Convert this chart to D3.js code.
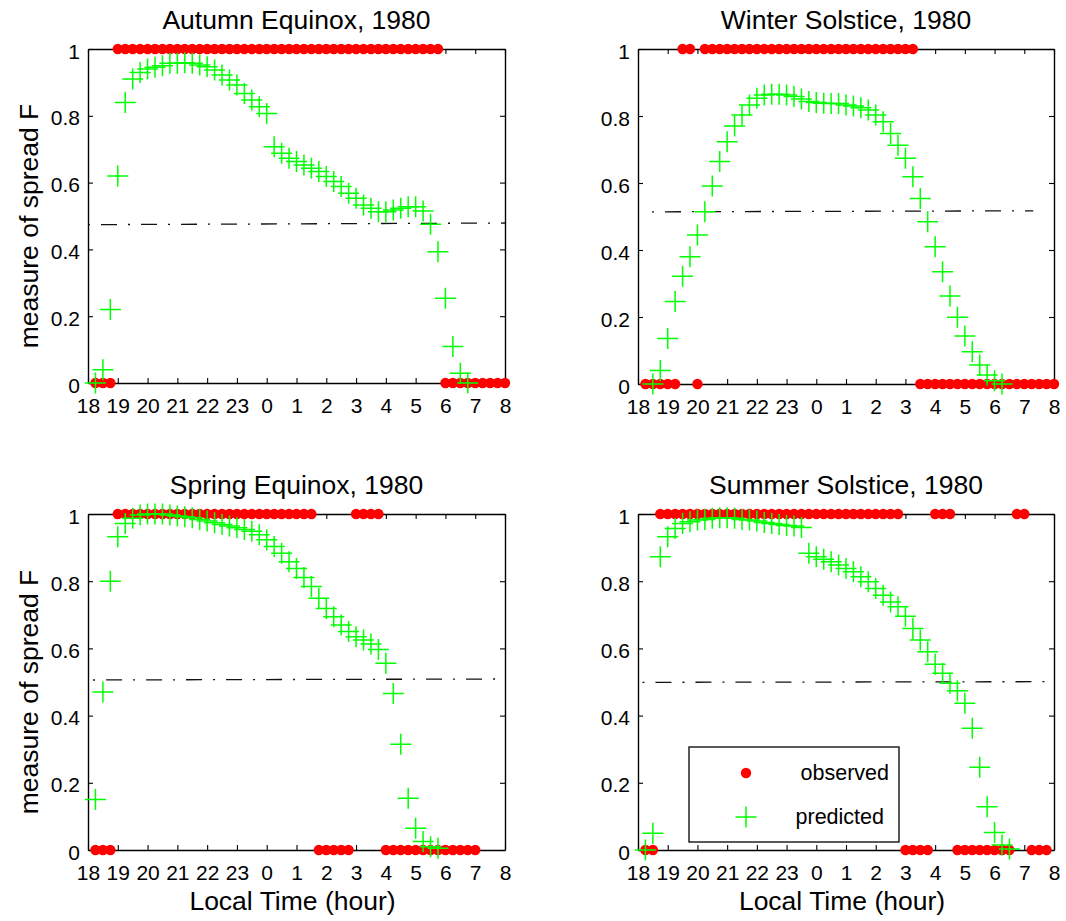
<!DOCTYPE html>
<html><head><meta charset="utf-8">
<script src="https://cdn.jsdelivr.net/npm/d3@7"></script>
<style>
body{margin:0;background:#fff}
svg{display:block}
text{font-family:"Liberation Sans",Arial,Helvetica,sans-serif;fill:#000}
</style>
</head><body>
<svg id="c" width="1066" height="921"></svg>
<script>
// ---------------- DATA ----------------
const timeGrid = [18.25,18.5,18.75,
  19,19.25,19.5,19.75, 20,20.25,20.5,20.75, 21,21.25,21.5,21.75, 22,22.25,22.5,22.75,
  23,23.25,23.5,23.75, 24,24.25,24.5,24.75, 25,25.25,25.5,25.75, 26,26.25,26.5,26.75,
  27,27.25,27.5,27.75, 28,28.25,28.5,28.75, 29,29.25,29.5,29.75, 30,30.25,30.5,30.75,
  31,31.25,31.5,31.75, 32];
const hourTicks = [18,19,20,21,22,23,24,25,26,27,28,29,30,31,32];
const yTicks = [0,0.2,0.4,0.6,0.8,1];
const panelTitles = ["Autumn Equinox, 1980","Winter Solstice, 1980","Spring Equinox, 1980","Summer Solstice, 1980"];
const seriesNames = ["observed","predicted"];

const autumnObserved = [0,0,0,
  1,1,1,1, 1,1,1,1, 1,1,1,1, 1,1,1,1, 1,1,1,1, 1,1,1,1, 1,1,1,1, 1,1,1,1,
  1,1,1,1, 1,1,1,1, 1,1,1,1, 0,0,0,0, 0,0,0,0, 0];
const winterObserved = [0,0,0,
  0,0,1,1, 0,1,1,1, 1,1,1,1, 1,1,1,1, 1,1,1,1, 1,1,1,1, 1,1,1,1, 1,1,1,1,
  1,1,0,0, 0,0,0,0, 0,0,0,0, 0,0,0,0, 0,0,0,0, 0];
const springObserved = [0,0,0,
  1,1,1,1, 1,1,1,1, 1,1,1,1, 1,1,1,1, 1,1,1,1, 1,1,1,1, 1,1,1,0, 0,0,0,0,
  1,1,1,1, 0,0,0,0, 0,0,0,0, 0,0,0,0, 0,null,null,null, null];
const summerObserved = [0,0,1,
  1,1,1,1, 1,1,1,1, 1,1,1,1, 1,1,1,1, 1,1,1,1, 1,1,1,1, 1,1,1,1, 1,1,1,1,
  0,0,0,0, 1,1,1,0, 0,0,0,0, 0,0,0,1, 1,0,0,0, null];

const autumnPredicted = [0.0,0.04,0.22,
  0.62,0.84,0.91,0.93, 0.94,0.945,0.95,0.957, 0.957,0.959,0.957,0.952,
  0.947,0.937,0.922,0.907, 0.892,0.867,0.847,0.827, 0.807,0.707,0.688,0.673,
  0.663,0.653,0.643,0.633, 0.618,0.603,0.588,0.568, 0.553,0.533,0.523,0.513,
  0.513,0.518,0.523,0.528, 0.528,0.515,0.475,0.393, 0.254,0.109,0.029,0.0,
  null,null,null,null, null];
const winterPredicted = [null,0.0,0.04,
  0.136,0.246,0.322,0.38, 0.445,0.514,0.591,0.664, 0.723,0.77,0.803,0.833,
  0.853,0.863,0.865,0.865, 0.863,0.858,0.851,0.843, 0.84,0.838,0.837,0.837,
  0.833,0.83,0.825,0.818, 0.803,0.783,0.748,0.713, 0.674,0.619,0.554,0.484,
  0.41,0.335,0.263,0.199, 0.143,0.096,0.057,0.027, 0.01,0.0,null,null,
  null,null,null,null, null];
const springPredicted = [0.15,0.47,0.80,
  0.932,0.972,0.987,0.997, 1.0,1.0,1.0,0.997, 0.994,0.992,0.989,0.984,
  0.979,0.974,0.969,0.964, 0.959,0.954,0.949,0.938, 0.923,0.903,0.883,0.858,
  0.838,0.811,0.784,0.749, 0.719,0.694,0.67,0.65, 0.635,0.625,0.613,0.597,
  0.556,0.466,0.315,0.154, 0.065,0.025,0.01,0.005, null,null,null,null,
  null,null,null,null, null];
const summerPredicted = [0.0,0.05,0.873,
  0.932,0.957,0.972,0.977, 0.982,0.984,0.987,0.989, 0.989,0.987,0.984,0.982,
  0.979,0.975,0.972,0.969, 0.966,0.964,0.96,0.883, 0.873,0.865,0.858,0.848,
  0.838,0.828,0.813,0.798, 0.778,0.758,0.738,0.724, 0.696,0.659,0.625,0.59,
  0.553,0.526,0.496,0.474, 0.437,0.362,0.246,0.129, 0.052,0.015,0.003,null,
  null,null,null,null, null];

// dash-dot threshold line: start/end hour and value at each end
const thresholdStartHour = [18.0, 18.47, 18.17, 18.15];
const thresholdEndHour   = [32.0, 31.3, 32.0, 32.0];
const thresholdStartValue = [0.474, 0.514, 0.506, 0.499];
const thresholdEndValue   = [0.479, 0.517, 0.509, 0.501];

const observedSeries = [autumnObserved, winterObserved, springObserved, summerObserved];
const predictedSeries = [autumnPredicted, winterPredicted, springPredicted, summerPredicted];

// ---------------- LAYOUT ----------------
const FONT = '"Liberation Sans",Arial,Helvetica,sans-serif';
const layout = [
  {left:88,  top:49,  w:417, h:334, ylabel:true,  xlabel:false},
  {left:638, top:49,  w:416, h:335, ylabel:false, xlabel:false},
  {left:88,  top:514, w:417, h:336, ylabel:true,  xlabel:true},
  {left:638, top:514, w:416, h:336, ylabel:false, xlabel:true}
];
const RED = "#ff0000", GREEN = "#00ff00";
const ARM = 10.5;
const crossPath = `M${-ARM},0H${ARM}M0,${-ARM}V${ARM}`;

const svg = d3.select("#c");

layout.forEach((L, i) => {
  const x = d3.scaleLinear().domain([18, 32]).range([L.left, L.left + L.w]);
  const y = d3.scaleLinear().domain([0, 1]).range([L.top + L.h, L.top]);
  const g = svg.append("g");

  // axes (inward ticks, MATLAB style)
  const styleAxis = sel => {
    sel.attr("font-size", 21).attr("font-family", FONT);
    sel.select(".domain").attr("stroke-width", 1.4);
    sel.selectAll(".tick line").attr("stroke-width", 1.1);
  };
  g.append("g").attr("transform", `translate(0,${L.top + L.h})`)
    .call(d3.axisBottom(x).tickValues(hourTicks).tickFormat(d => d % 24)
      .tickSizeInner(-5).tickSizeOuter(0).tickPadding(15))
    .call(styleAxis);
  g.append("g").attr("transform", `translate(0,${L.top})`)
    .call(d3.axisTop(x).tickValues(hourTicks).tickFormat("")
      .tickSizeInner(-5).tickSizeOuter(0))
    .call(styleAxis);
  const ya = g.append("g").attr("transform", `translate(${L.left},0)`)
    .call(d3.axisLeft(y).tickValues(yTicks).tickFormat(d => d3.format("")(+d.toFixed(1)))
      .tickSizeInner(-5).tickSizeOuter(0).tickPadding(8))
    .call(styleAxis);
  ya.selectAll(".tick text").attr("dy", "0.43em");
  g.append("g").attr("transform", `translate(${L.left + L.w},0)`)
    .call(d3.axisRight(y).tickValues(yTicks).tickFormat("")
      .tickSizeInner(-5).tickSizeOuter(0))
    .call(styleAxis);

  // title
  g.append("text").attr("x", L.left + L.w / 2).attr("y", L.top - 20)
    .attr("text-anchor", "middle").attr("font-size", 26.5).text(panelTitles[i]);

  if (L.ylabel) {
    g.append("text")
      .attr("transform", `translate(38,${L.top + L.h / 2 + 10}) rotate(-90)`)
      .attr("text-anchor", "middle").attr("font-size", 26.5)
      .text("measure of spread F");
  }
  if (L.xlabel) {
    g.append("text").attr("x", L.left + L.w / 2 - 4).attr("y", L.top + L.h + 60)
      .attr("text-anchor", "middle").attr("font-size", 26.5)
      .text("Local Time (hour)");
  }

  // threshold dash-dot line
  g.append("line")
    .attr("x1", x(thresholdStartHour[i])).attr("x2", x(thresholdEndHour[i]))
    .attr("y1", y(thresholdStartValue[i])).attr("y2", y(thresholdEndValue[i]))
    .attr("stroke", "#111").attr("stroke-width", 1.3)
    .attr("stroke-dasharray", "16 11 2 11").attr("stroke-dashoffset", 27);

  // observed dots
  const obs = timeGrid.map((t, k) => ({t, v: observedSeries[i][k]})).filter(d => d.v !== null);
  g.append("g").selectAll("circle").data(obs).join("circle")
    .attr("cx", d => x(d.t)).attr("cy", d => y(d.v)).attr("r", 5.2).attr("fill", RED);

  // predicted crosses
  const pred = timeGrid.map((t, k) => ({t, v: predictedSeries[i][k]})).filter(d => d.v !== null);
  g.append("g").selectAll("path").data(pred).join("path")
    .attr("transform", d => `translate(${x(d.t)},${y(d.v)})`)
    .attr("d", crossPath).attr("stroke", GREEN).attr("stroke-width", 1.5).attr("fill", "none");
});

// legend (in summer panel)
const lg = svg.append("g");
lg.append("rect").attr("x", 689).attr("y", 747).attr("width", 210).attr("height", 95)
  .attr("fill", "#fff").attr("stroke", "#000").attr("stroke-width", 1.3);
lg.append("circle").attr("cx", 746).attr("cy", 773).attr("r", 5.2).attr("fill", RED);
lg.append("path").attr("transform", "translate(746,817)").attr("d", crossPath)
  .attr("stroke", GREEN).attr("stroke-width", 1.5).attr("fill", "none");
lg.append("text").attr("x", 889).attr("y", 780).attr("text-anchor", "end")
  .attr("font-size", 21.5).text(seriesNames[0]);
lg.append("text").attr("x", 884).attr("y", 824).attr("text-anchor", "end")
  .attr("font-size", 21.5).text(seriesNames[1]);
</script>
</body></html>
